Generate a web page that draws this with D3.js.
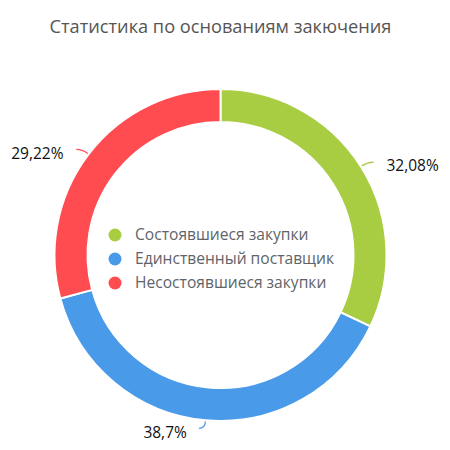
<!DOCTYPE html>
<html lang="ru">
<head>
<meta charset="UTF-8">
<title>Статистика по основаниям закючения</title>
<script src="https://d3js.org/d3.v7.min.js"></script>
<style>
    body { margin: 0; background: #fff; }
    svg { font-family: "Open Sans", sans-serif; }
    .title { font-size: 18.2px; fill: #555; }
    .legend-text { font-size: 15.6px; fill: #606469; }
    .pct { font-size: 15.5px; fill: #111; }
</style>
</head>
<body>
<div id="chart"></div>
<script>
    const categories = ["Состоявшиеся закупки", "Единственный поставщик", "Несостоявшиеся закупки"];
    const values = [32.08, 38.7, 29.22];
    const colors = ["#a9cd42", "#4a9aea", "#ff4c50"];

    const width = 450, height = 450;
    const cx = 220.5, cy = 255;
    const outerR = 166, innerR = 133;

    const svg = d3.select("#chart").append("svg")
        .attr("width", width)
        .attr("height", height);

    svg.append("text")
        .attr("class", "title")
        .attr("x", cx)
        .attr("y", 33)
        .attr("text-anchor", "middle")
        .text("Статистика по основаниям закючения");

    const pie = d3.pie().sort(null).value(d => d);
    const arcs = pie(values);
    const arc = d3.arc().innerRadius(innerR).outerRadius(outerR);

    const g = svg.append("g").attr("transform", `translate(${cx},${cy})`);

    g.selectAll("path.slice")
        .data(arcs)
        .enter().append("path")
        .attr("class", "slice")
        .attr("d", arc)
        .attr("fill", (d, i) => colors[i])
        .attr("stroke", "#fff")
        .attr("stroke-width", 2);

    // outside labels with short curved connectors
    function pt(a, r) { return [r * Math.sin(a), -r * Math.cos(a)]; }

    arcs.forEach((d, i) => {
        const a = (d.startAngle + d.endAngle) / 2;
        const dir = Math.sin(a) < 0 ? -1 : 1;
        const p = pt(a, outerR + 1);
        const c = pt(a, outerR + 8);
        const e = [c[0] + dir * 6, c[1]];
        g.append("path")
            .attr("d", `M${p[0]},${p[1]} Q${c[0]},${c[1]} ${e[0]},${e[1]}`)
            .attr("fill", "none")
            .attr("stroke", colors[i])
            .attr("stroke-width", 1.2);

        const tx = p[0] + dir * (18 + 8 * Math.abs(Math.sin(a)));
        const ty = p[1] + 11 * Math.max(0, -Math.cos(a));
        g.append("text")
            .attr("class", "pct")
            .attr("x", tx)
            .attr("y", ty)
            .attr("dy", "0.35em")
            .attr("text-anchor", dir < 0 ? "end" : "start")
            .text(String(values[i]).replace(".", ",") + "%");
    });

    // legend in the middle
    const y = d3.scaleBand().domain(categories).range([223, 295]);
    const legend = svg.append("g");
    const items = legend.selectAll("g")
        .data(categories)
        .enter().append("g")
        .attr("transform", d => `translate(115,${y(d) + y.bandwidth() / 2})`);
    items.append("circle")
        .attr("r", 6.5)
        .attr("fill", (d, i) => colors[i]);
    items.append("text")
        .attr("class", "legend-text")
        .attr("x", 20)
        .attr("dy", "0.35em")
        .text(d => d);
</script>
</body>
</html>
